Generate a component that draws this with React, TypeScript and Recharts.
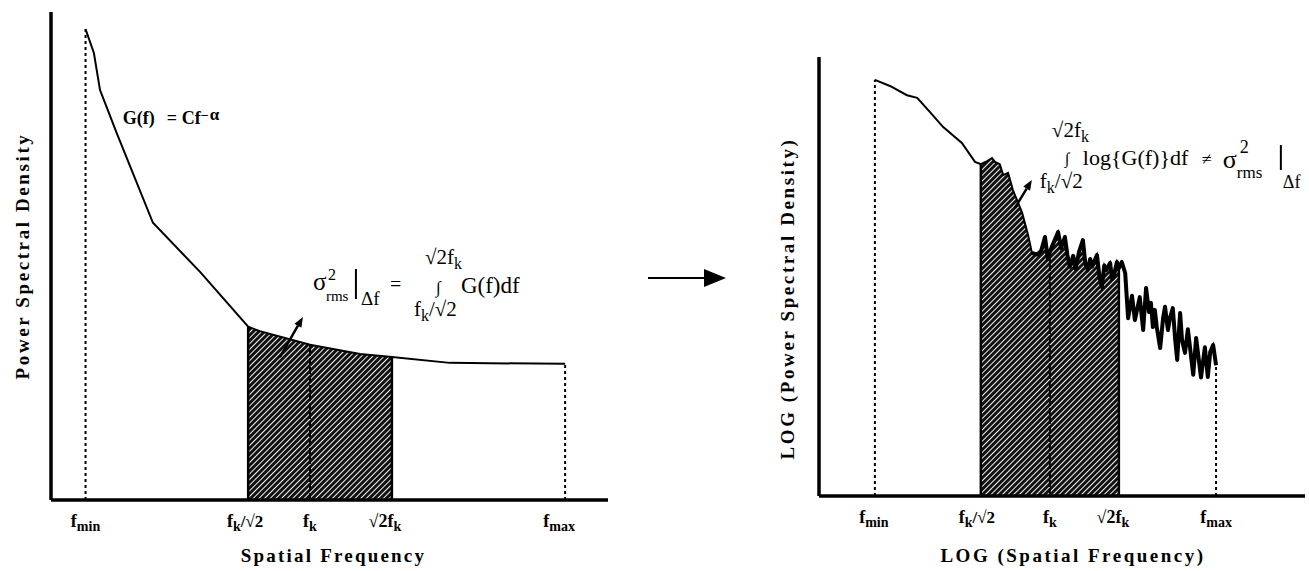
import {
  ComposedChart,
  Line,
  Area,
  XAxis,
  YAxis,
  ReferenceLine,
  ReferenceDot,
  Label,
} from 'recharts';

const SERIF = '"Liberation Serif", "Times New Roman", Times, serif';

// Linear panel: frequency (0-100 along the axis) vs power spectral density (0-100)
const LINEAR_FREQ = [6.2, 7.7, 8.8, 9.7, 11.8, 18.3, 26.8, 35.4, 37.5, 46.5, 55.5, 61.2, 71.6, 92.3];
const LINEAR_PSD = [96.5, 91.6, 84.0, 81.4, 75.2, 56.8, 46.7, 35.5, 34.6, 31.8, 29.9, 29.3, 28.1, 27.9];
// f_min, f_k/√2, f_k, √2 f_k, f_max
const LINEAR_MARKS = [6.2, 35.4, 46.5, 61.2, 92.3];

// Log-log panel: measured spectrum, noisy above f_k/√2
const LOG_FREQ = [
  11.5, 14.6, 18.1, 20.2, 22.8, 25.5, 29.4, 31.1, 32.1, 33.3, 34.6, 35.6, 36.2, 37.2, 37.9, 38.9,
  39.9, 41.8, 43.0, 43.8, 44.9, 45.7, 46.5, 47.1, 47.5, 48.0, 49.2, 49.8, 50.6, 51.1, 51.6, 52.3,
  52.8, 53.5, 54.3, 54.8, 55.3, 55.8, 56.2, 57.2, 57.7, 58.2, 58.7, 59.1, 59.9, 60.3, 60.7, 61.3,
  61.7, 62.3, 63.0, 63.6, 64.4, 65.0, 66.0, 66.7, 67.3, 67.9, 68.3, 68.7, 69.1, 69.5, 70.2, 70.8,
  71.2, 71.8, 72.2, 72.8, 73.3, 73.7, 74.3, 74.7, 75.3, 75.9, 77.0, 77.6, 78.6, 79.4, 80.0, 80.5,
  81.1, 81.7,
];
const LOG_PSD = [
  94.8, 93.4, 91.3, 90.7, 87.5, 84.1, 80.4, 77.7, 76.1, 75.6, 76.3, 77.0, 76.1, 75.6, 73.1, 73.6,
  69.7, 64.5, 59.5, 55.4, 55.0, 55.8, 59.0, 54.0, 55.6, 57.0, 60.1, 56.5, 59.0, 55.0, 52.2, 54.7,
  51.7, 55.6, 58.3, 53.0, 51.5, 54.0, 52.3, 54.9, 50.0, 47.6, 52.5, 51.5, 53.1, 49.5, 50.3, 53.3,
  51.9, 53.3, 50.8, 40.5, 45.6, 40.1, 45.3, 37.8, 47.4, 41.9, 44.0, 38.5, 42.4, 38.5, 33.7, 40.5,
  43.1, 37.8, 40.5, 42.8, 35.5, 31.0, 41.7, 35.5, 32.6, 38.0, 27.6, 36.0, 27.0, 33.9, 27.1, 32.8,
  34.4, 29.8,
];
const LOG_MARKS = [11.5, 33.3, 47.5, 61.7, 81.7];
// where the spectrum turns into a dense, heavy trace
const LOG_NOISE_FROM = 43.8;

const MARK_LABELS = [
  { pre: 'f', sub: 'min', post: '' },
  { pre: 'f', sub: 'k', post: '/√2' },
  { pre: 'f', sub: 'k', post: '' },
  { pre: '√2f', sub: 'k', post: '' },
  { pre: 'f', sub: 'max', post: '' },
];

function buildRows(freq: number[], psd: number[], marks: number[], tailFrom: number | null) {
  const lo = marks[1];
  const hi = marks[3];
  return freq.map((f, i) => ({
    f,
    psd: psd[i],
    band: f >= lo && f <= hi ? psd[i] : null,
    tail: tailFrom != null && f >= tailFrom ? psd[i] : null,
  }));
}

const psdAt = (freq: number[], psd: number[], f: number) => psd[freq.indexOf(f)];

const linearRows = buildRows(LINEAR_FREQ, LINEAR_PSD, LINEAR_MARKS, null);
const logRows = buildRows(LOG_FREQ, LOG_PSD, LOG_MARKS, LOG_NOISE_FROM);

function Hatch({ id }: { id: string }) {
  return (
    <pattern id={id} patternUnits="userSpaceOnUse" width={4} height={4} patternTransform="rotate(45)">
      <rect width={4} height={4} fill="#fff" />
      <rect width={3.05} height={4} fill="#111" />
    </pattern>
  );
}

function Arrow({ x1, y1, x2, y2, head = 10, width = 8, stroke = 2.5 }: any) {
  const dx = x2 - x1;
  const dy = y2 - y1;
  const len = Math.hypot(dx, dy);
  const ux = dx / len;
  const uy = dy / len;
  const bx = x2 - ux * head;
  const by = y2 - uy * head;
  const px = (-uy * width) / 2;
  const py = (ux * width) / 2;
  return (
    <g>
      <line x1={x1} y1={y1} x2={bx} y2={by} stroke="#000" strokeWidth={stroke} />
      <polygon points={`${x2},${y2} ${bx + px},${by + py} ${bx - px},${by - py}`} fill="#000" />
    </g>
  );
}

function FreqTick(props: any) {
  const { x, y, payload, marks, shifts } = props;
  const i = marks.indexOf(payload.value);
  const t = MARK_LABELS[i];
  if (!t) return null;
  return (
    <text x={x + shifts[i]} y={y + 25} textAnchor="middle" fontFamily={SERIF} fontWeight="bold" fontSize={18} fill="#000">
      {t.pre}
      <tspan fontSize={14} dy={4}>{t.sub}</tspan>
      {t.post ? <tspan fontSize={17} dy={-4}>{t.post}</tspan> : null}
    </text>
  );
}

const xTitle = (text: string, dx: number, dy: number, spacing: number) => (props: any) => {
  const vb = props.viewBox || {};
  return (
    <text
      x={vb.x + vb.width / 2 + dx}
      y={vb.y + dy}
      textAnchor="middle"
      fontFamily={SERIF}
      fontWeight="bold"
      fontSize={19}
      letterSpacing={spacing}
      fill="#000"
    >
      {text}
    </text>
  );
};

const yTitle = (text: string, dx: number, dy: number) => (props: any) => {
  const vb = props.viewBox || {};
  const cx = vb.x + dx;
  const cy = vb.y + vb.height / 2 + dy;
  return (
    <text
      transform={`translate(${cx},${cy}) rotate(-90)`}
      textAnchor="middle"
      dominantBaseline="central"
      fontFamily={SERIF}
      fontWeight="bold"
      fontSize={19}
      letterSpacing={2.6}
      fill="#000"
    >
      {text}
    </text>
  );
};

// σ²rms|Δf = ∫ G(f)df, anchored at the tail of its pointer arrow
function LinearFormula(props: any) {
  const { x, y } = props.viewBox;
  return (
    <g transform={`translate(${x},${y})`} fontFamily={SERIF} fill="#000">
      <Arrow x1={0} y1={0} x2={23} y2={-40} />
      <text x={33} y={-67} fontSize={25}>σ</text>
      <text x={48} y={-77} fontSize={16}>2</text>
      <text x={46} y={-56} fontSize={15}>rms</text>
      <line x1={76} y1={-88} x2={76} y2={-58} stroke="#000" strokeWidth={2} />
      <text x={81} y={-52} fontSize={19}>Δf</text>
      <text x={110} y={-66} fontSize={20}>=</text>
      <text x={145} y={-93} fontSize={21}>
        √2f<tspan fontSize={16} dy={5}>k</tspan>
      </text>
      <text x={156} y={-64} fontSize={17}>∫</text>
      <text x={181} y={-64} fontSize={23}>G(f)df</text>
      <text x={134} y={-41} fontSize={21}>
        f<tspan fontSize={16} dy={5}>k</tspan>
        <tspan dy={-5}>/√2</tspan>
      </text>
    </g>
  );
}

// ∫ log{G(f)}df ≠ σ²rms|Δf
function LogFormula(props: any) {
  const { x, y } = props.viewBox;
  return (
    <g transform={`translate(${x},${y})`} fontFamily={SERIF} fill="#000">
      <Arrow x1={0} y1={0} x2={17} y2={-28} />
      <text x={37} y={-71} fontSize={21}>
        √2f<tspan fontSize={16} dy={5}>k</tspan>
      </text>
      <text x={50} y={-44} fontSize={16}>∫</text>
      <text x={68} y={-43} fontSize={22}>log{'{'}G(f){'}'}df</text>
      <text x={187} y={-43} fontSize={18}>≠</text>
      <text x={208} y={-40} fontSize={26}>σ</text>
      <text x={225} y={-55} fontSize={18}>2</text>
      <text x={222} y={-30} fontSize={17}>rms</text>
      <line x1={266} y1={-63} x2={266} y2={-38} stroke="#000" strokeWidth={2} />
      <text x={268} y={-20} fontSize={18}>Δf</text>
      <text x={25} y={-20} fontSize={21}>
        f<tspan fontSize={16} dy={5}>k</tspan>
        <tspan dy={-5}>/√2</tspan>
      </text>
    </g>
  );
}

function PowerLawLabel(props: any) {
  const { x, y } = props.viewBox;
  return (
    <text x={x} y={y} fontFamily={SERIF} fontWeight="bold" fontSize={18} fill="#000">
      G(f)
      <tspan x={x + 44}>=</tspan>
      <tspan x={x + 59}>Cf</tspan>
      <tspan dy={-4} fontSize={14}>−</tspan>
      <tspan fontSize={17} dx={1}>α</tspan>
    </text>
  );
}

function markLines(freq: number[], psd: number[], marks: number[]) {
  return marks.map((m, i) => {
    const edge = i === 1 || i === 3;
    return (
      <ReferenceLine
        key={`mark-${i}`}
        segment={[
          { x: m, y: 0 },
          { x: m, y: psdAt(freq, psd, m) },
        ]}
        stroke="#000"
        strokeWidth={edge ? 2.5 : 2}
        strokeDasharray={edge ? undefined : i === 2 ? '7 2' : '3 3'}
      />
    );
  });
}

const axisLine = { stroke: '#000', strokeWidth: 3.5 };

function LinearPanel() {
  return (
    <ComposedChart width={640} height={571} data={linearRows} margin={{ top: 12, right: 32, bottom: 41, left: 49 }}>
      <defs>
        <Hatch id="hatch-linear" />
      </defs>
      <XAxis
        dataKey="f"
        type="number"
        domain={[0, 100]}
        ticks={LINEAR_MARKS}
        interval={0}
        height={30}
        tickSize={0}
        tickLine={false}
        axisLine={axisLine}
        tick={(p: any) => <FreqTick {...p} marks={LINEAR_MARKS} shifts={[0, -3, 0, -7, -6]} />}
      >
        <Label content={xTitle('Spatial Frequency', 4, 62, 2.2)} />
      </XAxis>
      <YAxis type="number" domain={[0, 100]} width={2} tick={false} tickLine={false} axisLine={axisLine}>
        <Label content={yTitle('Power Spectral Density', -27, 0)} />
      </YAxis>
      <Area dataKey="band" type="linear" fill="url(#hatch-linear)" fillOpacity={1} stroke="none" isAnimationActive={false} />
      {markLines(LINEAR_FREQ, LINEAR_PSD, LINEAR_MARKS)}
      <Line dataKey="psd" type="linear" stroke="#000" strokeWidth={2} dot={false} isAnimationActive={false} />
      <ReferenceDot x={12.9} y={77.0} r={0} fill="none" stroke="none" label={{ content: PowerLawLabel }} />
      <ReferenceDot x={41.1} y={29.3} r={0} fill="none" stroke="none" label={{ content: LinearFormula }} />
    </ComposedChart>
  );
}

function LogPanel() {
  return (
    <ComposedChart width={609} height={571} data={logRows} margin={{ top: 57, right: 4, bottom: 45, left: 117 }}>
      <defs>
        <Hatch id="hatch-log" />
      </defs>
      <XAxis
        dataKey="f"
        type="number"
        domain={[0, 100]}
        ticks={LOG_MARKS}
        interval={0}
        height={30}
        tickSize={0}
        tickLine={false}
        axisLine={axisLine}
        tick={(p: any) => <FreqTick {...p} marks={LOG_MARKS} shifts={[-1, -4, 0, -6, 0]} />}
      >
        <Label content={xTitle('LOG (Spatial Frequency)', 11, 66, 2.5)} />
      </XAxis>
      <YAxis type="number" domain={[0, 100]} width={2} tick={false} tickLine={false} axisLine={axisLine}>
        <Label content={yTitle('LOG (Power Spectral Density)', -30, 22)} />
      </YAxis>
      <Area dataKey="band" type="linear" fill="url(#hatch-log)" fillOpacity={1} stroke="none" isAnimationActive={false} />
      {markLines(LOG_FREQ, LOG_PSD, LOG_MARKS)}
      <Line dataKey="psd" type="linear" stroke="#000" strokeWidth={2} dot={false} isAnimationActive={false} />
      <Line dataKey="tail" type="linear" stroke="#000" strokeWidth={4} strokeLinejoin="round" dot={false} isAnimationActive={false} />
      <ReferenceDot x={40.3} y={65.6} r={0} fill="none" stroke="none" label={{ content: LogFormula }} />
    </ComposedChart>
  );
}

export default function App() {
  return (
    <div style={{ position: 'absolute', left: 0, top: 0, width: 1309, height: 571, background: '#fff' }}>
      <div style={{ position: 'absolute', left: 0, top: 0 }}>
        <LinearPanel />
      </div>
      <svg style={{ position: 'absolute', left: 640, top: 258 }} width={100} height={40}>
        <Arrow x1={8} y1={20} x2={86} y2={20} head={22} width={18} stroke={2} />
      </svg>
      <div style={{ position: 'absolute', left: 700, top: 0 }}>
        <LogPanel />
      </div>
    </div>
  );
}
